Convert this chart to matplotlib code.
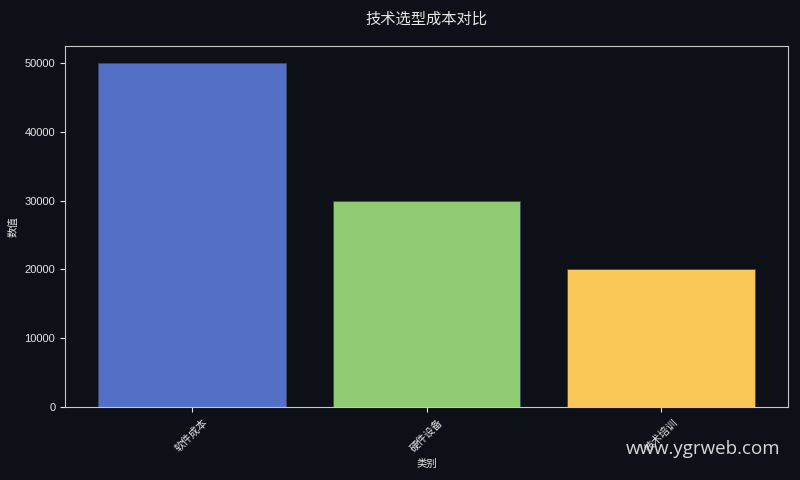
import matplotlib
matplotlib.use("Agg")
import matplotlib.pyplot as plt

plt.rcParams['font.family'] = ['Liberation Sans', 'Noto Sans CJK SC', 'DejaVu Sans']

categories = ["软件成本", "硬件设备", "技术培训"]
values = [50000, 30000, 20000]
colors = ["#5470c6", "#91cc75", "#fac858"]

bg = "#0d1117"
fg = "#e6e6e6"
cjk = ["Noto Sans CJK SC", "DejaVu Sans"]

fig = plt.figure(figsize=(8, 4.8), dpi=100, facecolor=bg)
ax = fig.add_axes([65 / 800, 1 - 407 / 480, 723 / 800, 361 / 480])
ax.set_facecolor(bg)

ax.bar(categories, values, color=colors, edgecolor="#3a4a6a", linewidth=0.6)

ax.set_title("技术选型成本对比", color=fg, fontsize=11, pad=16, family=cjk)
ax.set_xlabel("类别", color=fg, fontsize=7.5, family=cjk)
ax.set_ylabel("数值", color=fg, fontsize=7.5, family=cjk)
ax.tick_params(colors=fg, labelsize=8)
for lbl in ax.get_xticklabels():
    lbl.set_rotation(45)
    lbl.set_family(cjk)
    lbl.set_fontsize(7.5)
for s in ax.spines.values():
    s.set_color("#c8c8c8")

fig.text(0.976, 0.065, "www.ygrweb.com", color="#d8d8d8", fontsize=13.5,
         ha="right", va="center", family=["Open Sans", "DejaVu Sans"])

fig.savefig("out.png", facecolor=bg)
